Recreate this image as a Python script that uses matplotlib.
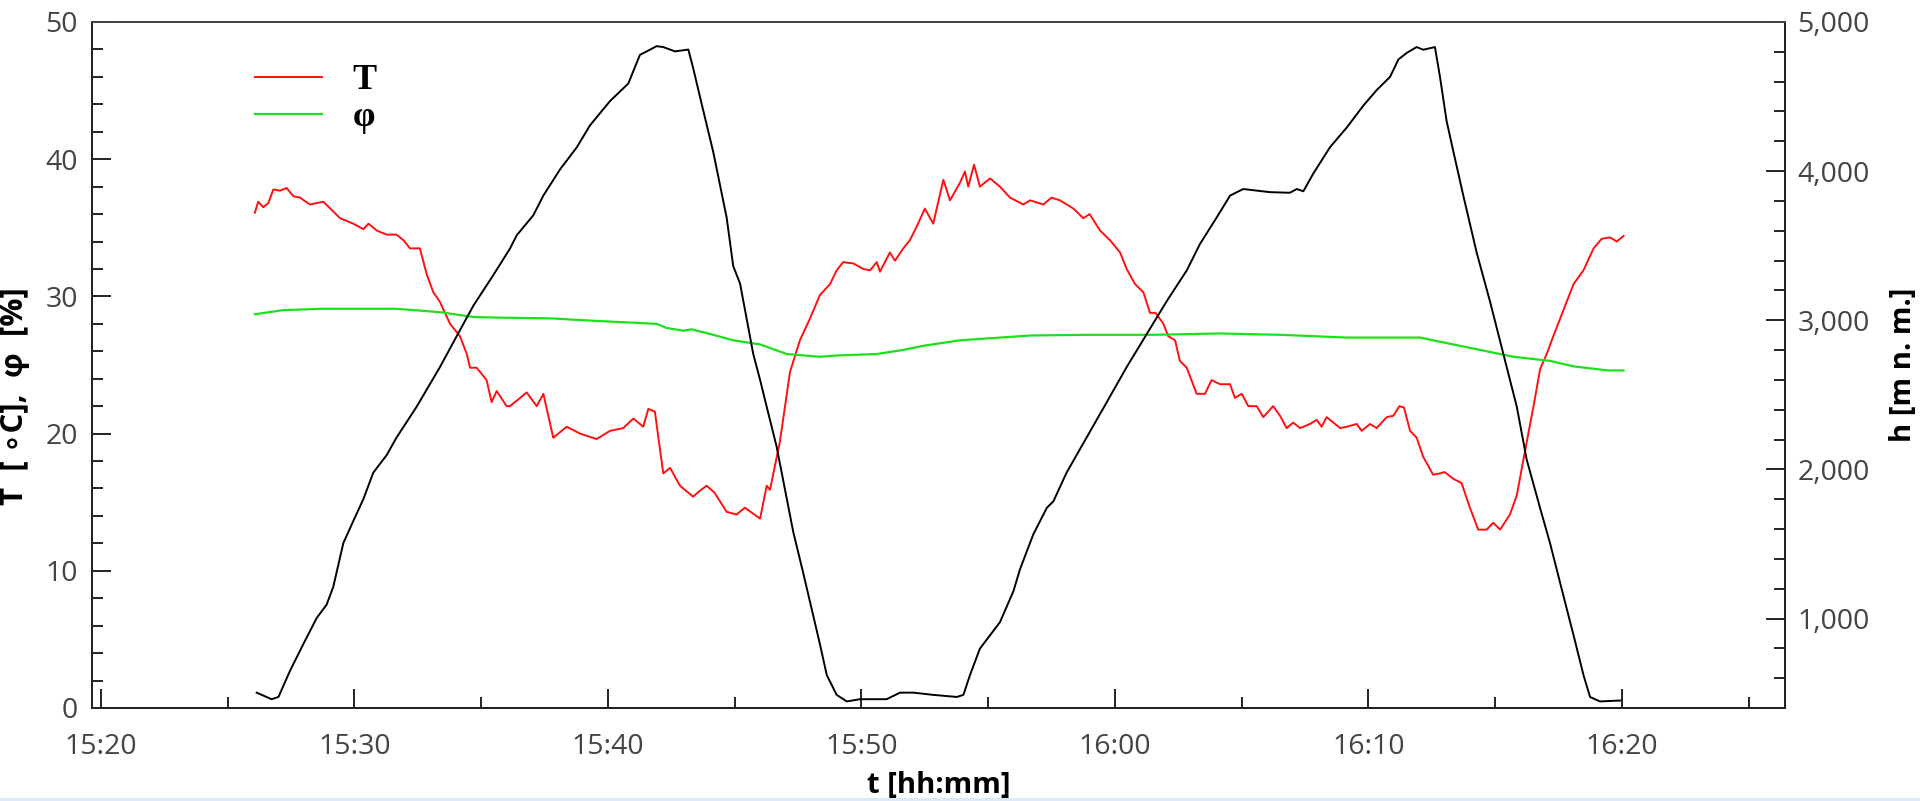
import matplotlib
matplotlib.use("Agg")
import matplotlib.pyplot as plt
from matplotlib.ticker import MultipleLocator, FixedLocator, FuncFormatter
from matplotlib.patches import Rectangle

# time in minutes after 15:00
h_time = [26.14, 26.73, 27.0, 27.46, 27.98, 28.51, 28.9, 29.16, 29.56, 29.95, 30.35, 30.74,
          31.27, 31.66, 32.45, 33.37, 34.03, 34.69, 35.48, 36.13, 36.4, 37.05, 37.45, 38.11,
          38.77, 39.29, 40.08, 40.8, 41.26, 41.53, 41.92, 42.18, 42.64, 43.17, 43.36, 43.69,
          44.15, 44.68, 44.94, 45.21, 45.73, 46.0, 46.26, 46.65, 47.31, 47.71, 48.36, 48.63,
          49.02, 49.42, 49.94, 50.99, 51.52, 52.04, 52.83, 53.76, 54.02, 54.28, 54.67, 55.46,
          55.99, 56.25, 56.52, 56.78, 57.31, 57.57, 58.09, 58.88, 59.67, 60.46, 61.25, 62.04,
          62.83, 63.35, 64.01, 64.54, 65.06, 66.11, 66.9, 67.17, 67.43, 67.82, 68.48, 69.14,
          69.8, 70.32, 70.85, 71.18, 71.51, 71.9, 72.16, 72.62, 72.82, 73.08, 73.35, 73.74,
          74.27, 74.79, 75.32, 75.85, 76.24, 76.77, 77.16, 77.69, 78.09, 78.48, 78.74, 79.13,
          79.92]
h_vals = [503, 459, 474, 651, 828, 1004, 1093, 1211, 1506, 1653, 1801, 1978,
          2096, 2214, 2420, 2686, 2893, 3098, 3304, 3480, 3570, 3703, 3836, 4012,
          4160, 4307, 4470, 4587, 4780, 4803, 4838, 4832, 4803, 4815, 4691, 4454,
          4130, 3689, 3363, 3246, 2774, 2600, 2420, 2154, 1579, 1299, 828, 621,
          488, 444, 459, 459, 503, 503, 488, 474, 488, 621, 798, 975,
          1182, 1329, 1450, 1565, 1742, 1786, 1978, 2214, 2449, 2686, 2907, 3128,
          3334, 3511, 3689, 3836, 3880, 3859, 3855, 3880, 3865, 3983, 4160, 4292,
          4440, 4543, 4632, 4749, 4793, 4832, 4814, 4832, 4632, 4337, 4130, 3836,
          3452, 3128, 2774, 2420, 2066, 1740, 1506, 1152, 887, 621, 474, 444,
          450]

T_time = [26.07, 26.2, 26.4, 26.6, 26.8, 27.06, 27.32, 27.59, 27.85, 28.24, 28.77, 29.43,
          29.95, 30.35, 30.55, 30.88, 31.27, 31.66, 31.93, 32.19, 32.58, 32.85, 33.11, 33.37,
          33.77, 34.16, 34.43, 34.56, 34.82, 35.21, 35.41, 35.61, 36.0, 36.13, 36.4, 36.79,
          37.19, 37.45, 37.84, 38.37, 38.9, 39.55, 40.08, 40.6, 41.0, 41.39, 41.59, 41.85,
          42.18, 42.45, 42.84, 43.36, 43.6, 43.89, 44.2, 44.68, 45.07, 45.4, 46.0, 46.26,
          46.39, 46.78, 47.18, 47.57, 47.97, 48.36, 48.76, 49.02, 49.28, 49.68, 50.07, 50.34,
          50.6, 50.73, 51.12, 51.32, 51.65, 51.91, 52.18, 52.5, 52.83, 53.23, 53.49, 53.89,
          54.08, 54.21, 54.44, 54.67, 55.07, 55.46, 55.86, 56.38, 56.65, 57.17, 57.5, 57.83,
          58.36, 58.75, 59.0, 59.41, 59.8, 60.2, 60.46, 60.79, 61.12, 61.38, 61.6, 61.91,
          62.1, 62.37, 62.56, 62.83, 63.22, 63.55, 63.81, 64.14, 64.54, 64.73, 65.0, 65.26,
          65.59, 65.85, 66.24, 66.51, 66.77, 67.03, 67.3, 67.69, 67.96, 68.15, 68.35, 68.88,
          69.14, 69.54, 69.73, 70.06, 70.32, 70.72, 70.98, 71.22, 71.4, 71.64, 71.9, 72.16,
          72.55, 72.82, 73.0, 73.35, 73.67, 74.0, 74.33, 74.66, 74.92, 75.19, 75.58, 75.85,
          76.11, 76.51, 76.77, 77.03, 77.29, 77.69, 78.09, 78.48, 78.88, 79.2, 79.53, 79.79,
          80.06]
T_vals = [36.1, 36.9, 36.5, 36.8, 37.8, 37.7, 37.9, 37.3, 37.2, 36.7, 36.9, 35.7,
          35.3, 34.9, 35.3, 34.8, 34.5, 34.5, 34.1, 33.5, 33.5, 31.6, 30.3, 29.6,
          28.0, 27.1, 25.8, 24.8, 24.8, 23.9, 22.3, 23.1, 22.0, 22.0, 22.4, 23.0,
          22.0, 22.9, 19.7, 20.5, 20.0, 19.6, 20.2, 20.4, 21.1, 20.5, 21.8, 21.6,
          17.1, 17.5, 16.2, 15.4, 15.8, 16.2, 15.7, 14.3, 14.1, 14.6, 13.8, 16.2,
          15.9, 19.4, 24.5, 26.8, 28.4, 30.1, 30.9, 31.9, 32.5, 32.4, 32.0, 31.9,
          32.5, 31.8, 33.2, 32.6, 33.5, 34.1, 35.1, 36.4, 35.3, 38.5, 37.0, 38.3,
          39.1, 38.0, 39.6, 38.0, 38.6, 38.0, 37.2, 36.7, 37.0, 36.7, 37.2, 37.0,
          36.4, 35.7, 36.0, 34.8, 34.1, 33.2, 32.0, 30.9, 30.3, 28.8, 28.8, 28.0,
          27.1, 26.8, 25.3, 24.8, 22.9, 22.9, 23.9, 23.6, 23.6, 22.6, 22.9, 22.0,
          22.0, 21.2, 22.0, 21.3, 20.4, 20.8, 20.4, 20.7, 21.0, 20.5, 21.2, 20.4,
          20.5, 20.7, 20.2, 20.7, 20.4, 21.2, 21.3, 22.0, 21.9, 20.2, 19.7, 18.3,
          17.0, 17.1, 17.2, 16.7, 16.4, 14.6, 13.0, 13.0, 13.5, 13.0, 14.1, 15.5,
          18.1, 22.0, 24.7, 25.8, 27.1, 29.0, 30.9, 31.9, 33.5, 34.2, 34.3, 34.0,
          34.4]

phi_time = [26.07, 27.19, 28.77, 31.66, 33.37, 34.69, 35.74, 37.71, 39.68, 41.92, 42.31, 42.97,
            43.3, 44.15, 44.94, 46.0, 47.05, 48.36, 49.1, 50.6, 51.65, 52.44, 53.89, 56.65,
            58.88, 61.51, 64.14, 66.51, 69.14, 72.03, 73.08, 74.4, 75.72, 77.16, 78.09, 79.46,
            80.06]
phi_vals = [28.7, 29.0, 29.1, 29.1, 28.85, 28.5, 28.45, 28.4, 28.2, 28.0, 27.7, 27.5,
            27.6, 27.2, 26.8, 26.5, 25.8, 25.6, 25.7, 25.8, 26.1, 26.4, 26.8, 27.15,
            27.2, 27.2, 27.3, 27.2, 27.0, 27.0, 26.6, 26.1, 25.6, 25.3, 24.9, 24.6,
            24.6]

x_ticks = [20, 30, 40, 50, 60, 70, 80]
x_ticklabels = ["15:20", "15:30", "15:40", "15:50", "16:00", "16:10", "16:20"]

W, H = 1920, 801
fig = plt.figure(figsize=(W / 100, H / 100), dpi=100)
ax = fig.add_axes([92 / W, 1 - 708 / H, (1785 - 92) / W, (708 - 22) / H])
ax2 = ax.twinx()

tick_font = {"family": ["Open Sans", "DejaVu Sans"], "size": 20.5}
label_font = {"family": ["Open Sans", "DejaVu Sans"], "size": 21, "weight": "bold"}

ax.plot(T_time, T_vals, color="#ff1010", lw=1.4, label="T")
ax.plot(phi_time, phi_vals, color="#1de01d", lw=1.6, label="φ")
ax2.plot(h_time, h_vals, color="black", lw=1.4)

ax.set_xlim(19.645, 86.43)
ax.set_ylim(0, 50)
ax2.set_ylim(400, 5000)

ax.xaxis.set_major_locator(FixedLocator(x_ticks))
ax.set_xticklabels(x_ticklabels)
ax.xaxis.set_minor_locator(MultipleLocator(5))
ax.yaxis.set_major_locator(MultipleLocator(10))
ax.yaxis.set_minor_locator(MultipleLocator(2))
ax2.yaxis.set_major_locator(MultipleLocator(1000))
ax2.yaxis.set_minor_locator(MultipleLocator(200))
ax2.yaxis.set_major_formatter(FuncFormatter(lambda v, p: f"{int(v):,}"))

for a in (ax, ax2):
    for s in a.spines.values():
        s.set_linewidth(1.4)
        s.set_color("#222222")
    a.spines["top"].set_color("#444444")

ax.tick_params(axis="x", which="major", direction="in", length=14, width=1.4, pad=18, colors="#222222", labelcolor="#444444")
ax.tick_params(axis="x", which="minor", direction="in", length=8, width=1.4, colors="#222222")
ax.tick_params(axis="y", which="major", direction="in", length=14, width=1.4, pad=10, colors="#222222", labelcolor="#444444")
ax.tick_params(axis="y", which="minor", direction="in", length=8, width=1.4, colors="#222222")
ax2.tick_params(axis="y", which="major", direction="in", length=14, width=1.4, pad=9, colors="#222222", labelcolor="#444444")
ax2.tick_params(axis="y", which="minor", direction="in", length=8, width=1.4, colors="#222222")

for lab in ax.get_xticklabels() + ax.get_yticklabels() + ax2.get_yticklabels():
    lab.set_fontfamily(tick_font["family"])
    lab.set_fontsize(tick_font["size"])

ax.set_xlabel("t [hh:mm]", fontdict=label_font, labelpad=7)
ax.set_ylabel("T  [ ∘C],  φ  [%]", fontdict=dict(label_font, size=22.5), labelpad=11)
ax.yaxis.label.set_y(0.455)
ax2.set_ylabel("h [m n. m.]", fontdict=label_font, rotation=90, labelpad=14)

leg = ax.legend(loc="upper left", bbox_to_anchor=(255 / W, 1 - 64 / H), bbox_transform=fig.transFigure,
                frameon=False, borderpad=0, borderaxespad=0, handlelength=1.85, handletextpad=0.85,
                labelspacing=0.1, prop={"family": "Liberation Serif", "weight": "bold", "size": 26})

fig.add_artist(Rectangle((0, 0), 1, 3 / H, transform=fig.transFigure, color="#dce9f7", lw=0))

fig.savefig("out.png", dpi=100)
